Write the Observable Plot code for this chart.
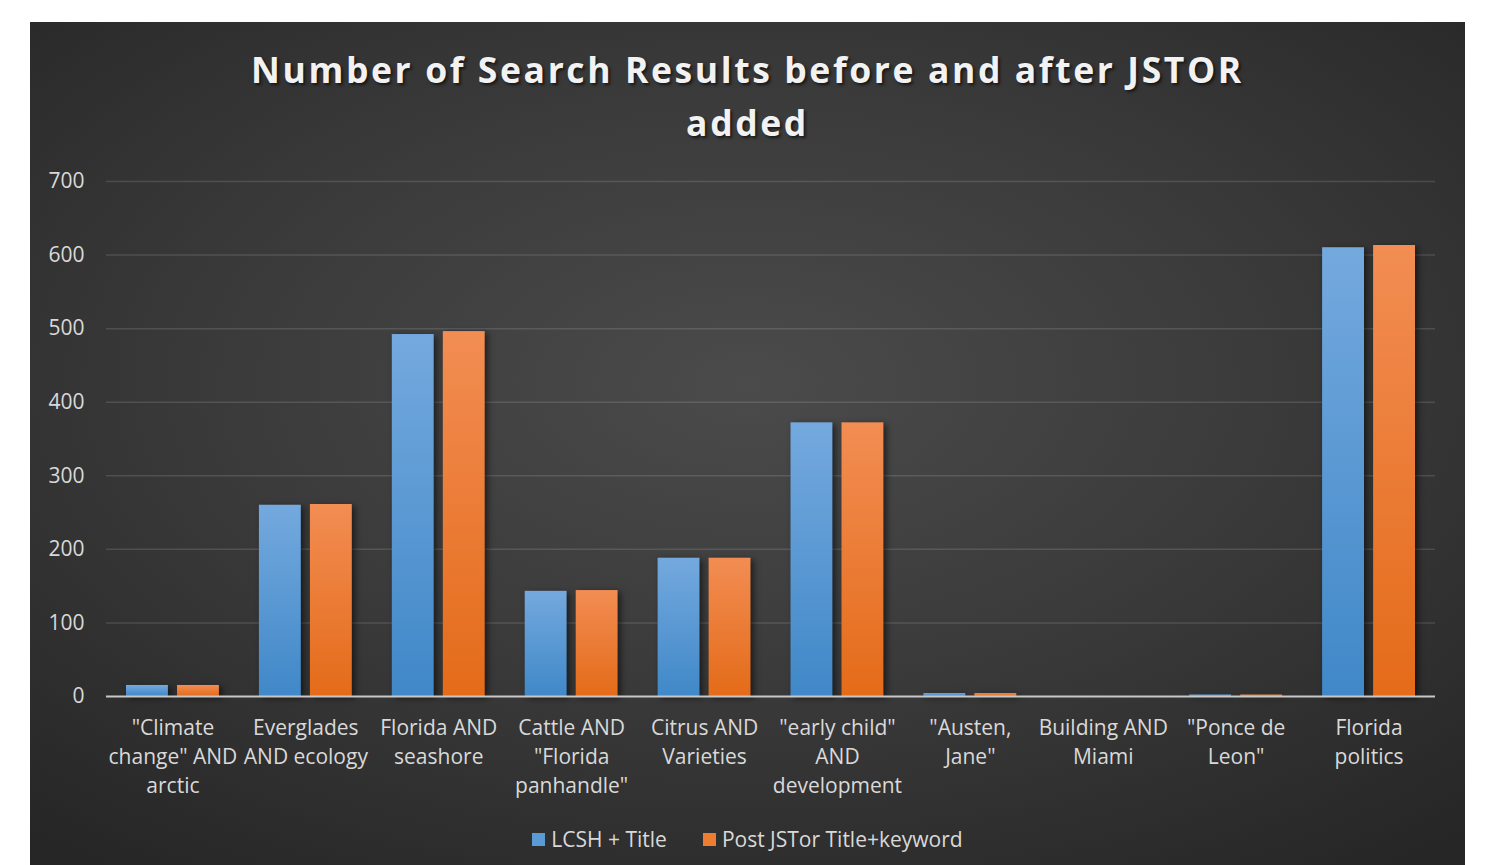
<!DOCTYPE html>
<html>
<head>
<meta charset="utf-8">
<script src="https://cdn.jsdelivr.net/npm/d3@7"></script>
<script src="https://cdn.jsdelivr.net/npm/@observablehq/plot@0.6"></script>
<style>
  html, body { margin: 0; padding: 0; background: #ffffff; overflow: hidden; }
  #card {
    position: absolute; left: 30px; top: 22px; width: 1435px; height: 860px;
    background: radial-gradient(ellipse 75% 70% at 50% 42%, #4b4b4b 0%, #3a3a3a 50%, #262626 100%);
    font-family: "Open Sans", sans-serif;
  }
  #title {
    position: absolute; left: 0; top: 21px; width: 100%; text-align: center;
    color: #f2f2f2; font-weight: 700; font-size: 35.5px; letter-spacing: 2.6px; line-height: 53px;
    text-shadow: 2px 2px 3px rgba(0,0,0,0.6);
  }
  #chart { position: absolute; left: 0; top: 108px; }
  #legend {
    position: absolute; left: 0; top: 803px; width: 100%;
    display: flex; justify-content: center; gap: 36px;
    color: #d9d9d9; font-size: 21px; padding-left: 0;
  }
  #legend .item { display: flex; align-items: center; gap: 6px; }
  #legend .sw { width: 13px; height: 13px; display: inline-block; }
  .bars rect { filter: drop-shadow(3px 2px 3px rgba(0,0,0,0.55)); }
</style>
</head>
<body>
<svg width="0" height="0" style="position:absolute">
  <defs>
    <linearGradient id="gBlue" x1="0" y1="0" x2="0" y2="1">
      <stop offset="0" stop-color="#74a9de"/>
      <stop offset="1" stop-color="#4088c8"/>
    </linearGradient>
    <linearGradient id="gOrange" x1="0" y1="0" x2="0" y2="1">
      <stop offset="0" stop-color="#f28d53"/>
      <stop offset="1" stop-color="#e46b19"/>
    </linearGradient>
  </defs>
</svg>
<div id="card">
  <div id="title">Number of Search Results before and after JSTOR<br>added</div>
  <div id="chart"></div>
  <div id="legend">
    <span class="item"><span class="sw" style="background:#5b9bd5"></span>LCSH + Title</span>
    <span class="item"><span class="sw" style="background:#ed7d31"></span>Post JSTor Title+keyword</span>
  </div>
</div>
<script>
const categories = [
  '"Climate\nchange" AND\narctic',
  'Everglades\nAND ecology',
  'Florida AND\nseashore',
  'Cattle AND\n"Florida\npanhandle"',
  'Citrus AND\nVarieties',
  '"early child"\nAND\ndevelopment',
  '"Austen,\nJane"',
  'Building AND\nMiami',
  '"Ponce de\nLeon"',
  'Florida\npolitics'
];
const lcshTitle = [15, 260, 492, 143, 188, 372, 4, 0, 2, 610];
const postJstor = [15, 261, 496, 144, 188, 372, 4, 0, 2, 613];
const yTicks = [0, 100, 200, 300, 400, 500, 600, 700];

const dataA = categories.map((c, i) => ({category: c, value: lcshTitle[i]}));
const dataB = categories.map((c, i) => ({category: c, value: postJstor[i]}));

const plot = Plot.plot({
  width: 1435,
  height: 680,
  marginLeft: 76,
  marginRight: 30,
  marginTop: 51,
  marginBottom: 114,
  style: {background: "transparent", fontFamily: "Open Sans, sans-serif", fontSize: "21px", color: "#d9d9d9"},
  x: {domain: categories, padding: 0, round: false, label: null},
  y: {domain: [0, 700], label: null},
  marks: [
    Plot.ruleY(yTicks.filter(d => d > 0), {stroke: "#ffffff", strokeOpacity: 0.13, strokeWidth: 1.5}),
    Plot.axisY({ticks: yTicks, tickSize: 0, tickPadding: 22, fontSize: 21, fill: "#d9d9d9", label: null}),
    Plot.axisX({tickSize: 0, tickPadding: 18, fontSize: 21, fill: "#d9d9d9", lineHeight: 1.38, label: null}),
    Plot.barY(dataA, {x: "category", y: "value", fill: "url(#gBlue)", insetLeft: 20, insetRight: 71, className: "bars"}),
    Plot.barY(dataB, {x: "category", y: "value", fill: "url(#gOrange)", insetLeft: 71, insetRight: 20, className: "bars"}),
    Plot.ruleY([0], {stroke: "#c8c8c8", strokeWidth: 2})
  ]
});
document.getElementById("chart").appendChild(plot);
</script>
</body>
</html>
